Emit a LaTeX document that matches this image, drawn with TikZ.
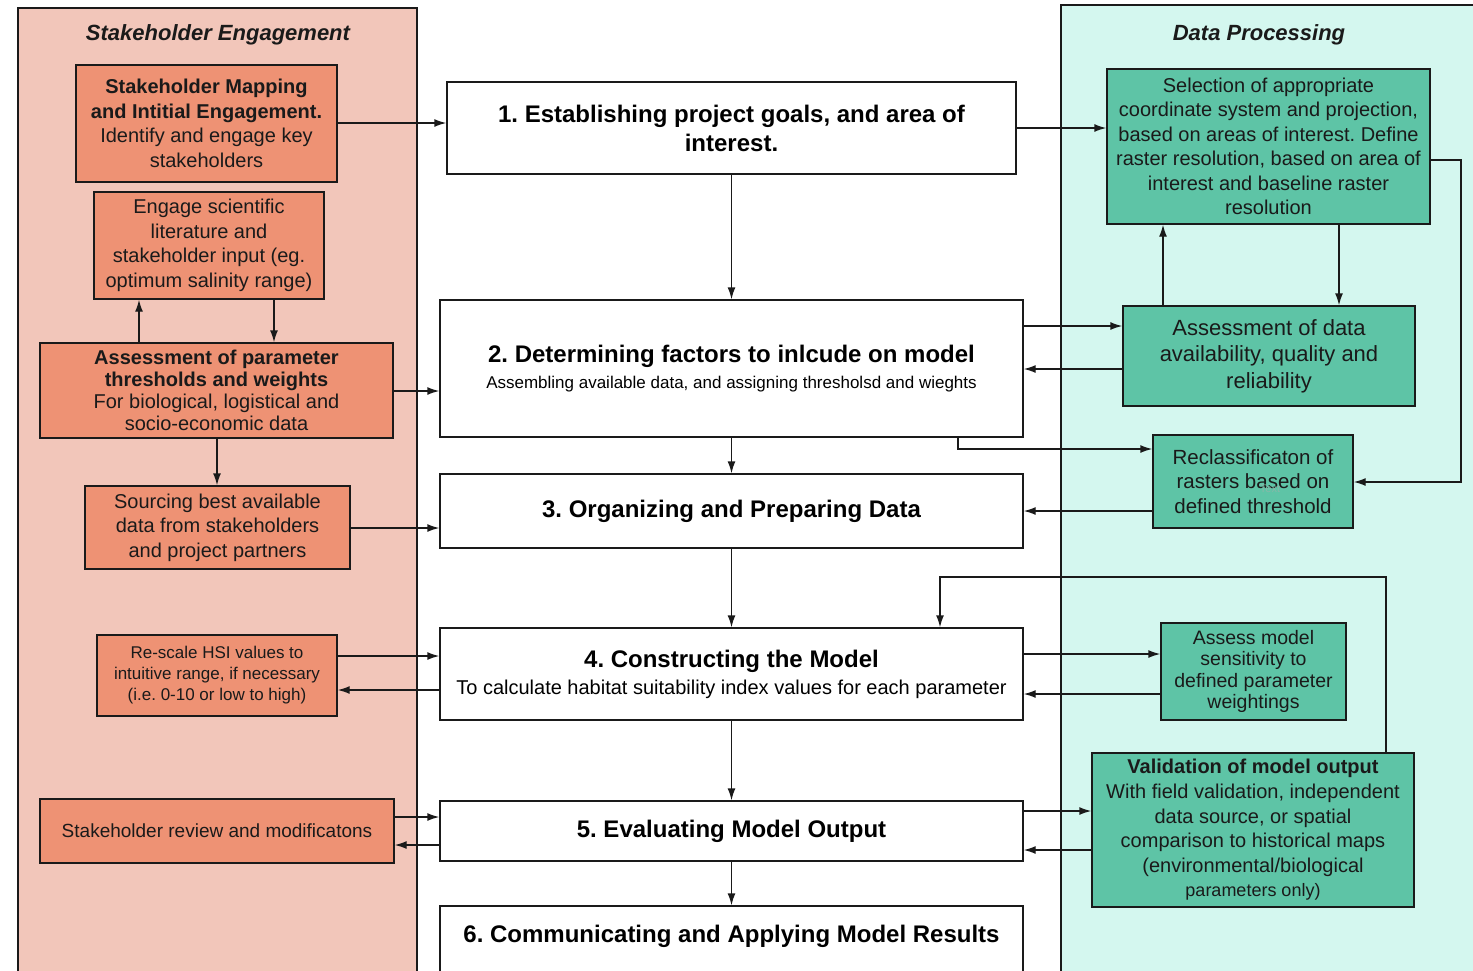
\documentclass[tikz,border=0pt]{standalone}
\usepackage{fontspec}
\setmainfont{Liberation Sans}
\usetikzlibrary{arrows.meta}
\definecolor{leftbg}{HTML}{F2C6BA}
\definecolor{orangebox}{HTML}{EE9274}
\definecolor{rightbg}{HTML}{D4F7EF}
\definecolor{tealbox}{HTML}{5EC4A6}
\definecolor{ghost}{HTML}{86B8A8}
\definecolor{inkc}{HTML}{1A1A1A}
\newcommand\myfs[2]{\fontsize{#1}{#2}\selectfont}
\frenchspacing
\begin{document}
\begin{tikzpicture}[x=1pt,y=1pt,
  panel/.style={draw=inkc, line width=1.5pt},
  ptitle/.style={font=\myfs{22}{26}\bfseries\itshape, text=inkc, inner sep=0pt},
  obox/.style={draw=inkc, line width=1.4pt, fill=orangebox, inner sep=0pt, align=center, text=inkc},
  gbox/.style={draw=inkc, line width=1.4pt, fill=tealbox, inner sep=0pt, align=center, text=inkc},
  cbox/.style={draw=inkc, line width=1.4pt, fill=white, inner sep=0pt, align=center, text=black},
  arr/.style={-{Latex[length=12pt,width=8pt]}, line width=1.4pt, draw=inkc},
  ctitle/.style={font=\myfs{24}{28}\bfseries}
]
\useasboundingbox (0,0) rectangle (1473,-970);
\clip (0,0) rectangle (1473,-970);

% panels
\draw[panel, fill=leftbg] (18,-8) rectangle (417,-995);
\draw[panel, fill=rightbg] (1061,-5) rectangle (1495,-995);
\node[ptitle] (lt) at (218,-35) {Stakeholder Engagement};
\node[ptitle] (rt) at (1259,-35) {Data Processing};

% left boxes
\node[obox, minimum width=261, minimum height=117, font=\myfs{20}{24.5}] (a1) at (206.5,-123.5)
  {\textbf{Stakeholder Mapping}\\\textbf{and Intitial Engagement.}\\Identify and engage key\\stakeholders};
\node[obox, minimum width=230, minimum height=107, font=\myfs{20}{24.5}] (a2) at (209,-245.5)
  {Engage scientific\\literature and\\stakeholder input (eg.\\optimum salinity range)};
\node[obox, minimum width=353, minimum height=95, font=\myfs{20}{22}] (a3) at (216.5,-390.5)
  {\textbf{Assessment of parameter}\\\textbf{thresholds and weights}\\For biological, logistical and\\socio-economic data};
\node[obox, minimum width=265, minimum height=83, font=\myfs{20}{24.5}] (a4) at (217.5,-527.5)
  {Sourcing best available\\data from stakeholders\\and project partners};
\node[obox, minimum width=240, minimum height=81, font=\myfs{17}{21}] (a5) at (217,-675.5)
  {Re-scale HSI values to\\intuitive range, if necessary\\(i.e. 0-10 or low to high)};
\node[obox, minimum width=354, minimum height=64, font=\myfs{19}{23}] (a6) at (217,-831)
  {Stakeholder review and modificatons};

% central boxes
\node[cbox, minimum width=569, minimum height=92, font=\myfs{24}{29}\bfseries] (c1) at (731.5,-128)
  {1. Establishing project goals, and area of\\interest.};
\node[cbox, minimum width=583, minimum height=137, font=\myfs{24}{26}] (c2) at (731.5,-368.5)
  {\textbf{2. Determining factors to inlcude on model}\\{\myfs{17}{20}Assembling available data, and assigning thresholsd and wieghts}};
\node[cbox, minimum width=583, minimum height=74, font=\myfs{24}{28}\bfseries] (c3) at (731.5,-511)
  {3. Organizing and Preparing Data};
\node[cbox, minimum width=583, minimum height=92, font=\myfs{24}{27}] (c4) at (731.5,-674)
  {\textbf{4. Constructing the Model}\\{\myfs{20}{24}To calculate habitat suitability index values for each parameter}};
\node[cbox, minimum width=583, minimum height=60, font=\myfs{24}{28}\bfseries] (c5) at (731.5,-831)
  {5. Evaluating Model Output};
\node[cbox, minimum width=583, minimum height=90] (c6) at (731.5,-951) {};
\node[ctitle, inner sep=0pt] (c6t) at (731.5,-936) {6. Communicating and Applying Model Results};

% right boxes
\node[gbox, minimum width=323, minimum height=155, font=\myfs{20}{24.5}] (b1) at (1268.5,-146.5)
  {Selection of appropriate\\coordinate system and projection,\\based on areas of interest. Define\\raster resolution, based on area of\\interest and baseline raster\\resolution};
\node[gbox, minimum width=292, minimum height=100, font=\myfs{22}{26.5}] (b2) at (1269,-356)
  {Assessment of data\\availability, quality and\\reliability};
\node[gbox, minimum width=200, minimum height=93, font=\myfs{20.5}{24.5}] (b3) at (1253,-481.5)
  {Reclassificaton of\\rasters based on\\defined threshold};
\node[text=ghost, font=\myfs{11}{13}, inner sep=0pt] (ghost) at (1270,-489) {Text};
\node[gbox, minimum width=185, minimum height=97, font=\myfs{19.5}{21.5}] (b4) at (1253.5,-671.5)
  {Assess model\\sensitivity to\\defined parameter\\weightings};
\node[gbox, minimum width=322, minimum height=154, font=\myfs{20}{24.6}] (b5) at (1253,-830)
  {\textbf{Validation of model output}\\With field validation, independent\\data source, or spatial\\comparison to historical maps\\(environmental/biological\\{\myfs{18}{21}parameters only)}};

% left connectors
\draw[arr] (a1.east |- 0,-123) -- (c1.west |- 0,-123);
\draw[arr] (a3.east |- 0,-391) -- (c2.west |- 0,-391);
\draw[arr] (a4.east |- 0,-528) -- (c3.west |- 0,-528);
\draw[arr] (a5.east |- 0,-656) -- (c4.west |- 0,-656);
\draw[arr] (c4.west |- 0,-690) -- (a5.east |- 0,-690);
\draw[arr] (a6.east |- 0,-817) -- (c5.west |- 0,-817);
\draw[arr] (c5.west |- 0,-845) -- (a6.east |- 0,-845);
\draw[arr] (a3.north -| 139,0) -- (a2.south -| 139,0);
\draw[arr] (a2.south -| 274,0) -- (a3.north -| 274,0);
\draw[arr] (a3.south -| 217,0) -- (a4.north -| 217,0);

% central connectors
\draw[arr] (c1.south) -- (c2.north);
\draw[arr] (c2.south) -- (c3.north);
\draw[arr] (c3.south) -- (c4.north);
\draw[arr] (c4.south) -- (c5.north);
\draw[arr] (c5.south) -- (c6.north);

% right connectors
\draw[arr] (c1.east |- 0,-128) -- (b1.west |- 0,-128);
\draw[arr] (b2.north -| 1163,0) -- (b1.south -| 1163,0);
\draw[arr] (b1.south -| 1339,0) -- (b2.north -| 1339,0);
\draw[arr] (b1.east |- 0,-160) -| (1461,-482) -- (b3.east |- 0,-482);
\draw[arr] (c2.east |- 0,-326) -- (b2.west |- 0,-326);
\draw[arr] (b2.west |- 0,-369) -- (c2.east |- 0,-369);
\draw[arr] (c2.south -| 958,0) |- (b3.west |- 0,-449);
\draw[arr] (b3.west |- 0,-511) -- (c3.east |- 0,-511);
\draw[arr] (c4.east |- 0,-654) -- (b4.west |- 0,-654);
\draw[arr] (b4.west |- 0,-694) -- (c4.east |- 0,-694);
\draw[arr] (b5.north -| 1386,0) |- (940,-577) -- (c4.north -| 940,0);
\draw[arr] (c5.east |- 0,-811) -- (b5.west |- 0,-811);
\draw[arr] (b5.west |- 0,-850) -- (c5.east |- 0,-850);
\end{tikzpicture}
\end{document}
